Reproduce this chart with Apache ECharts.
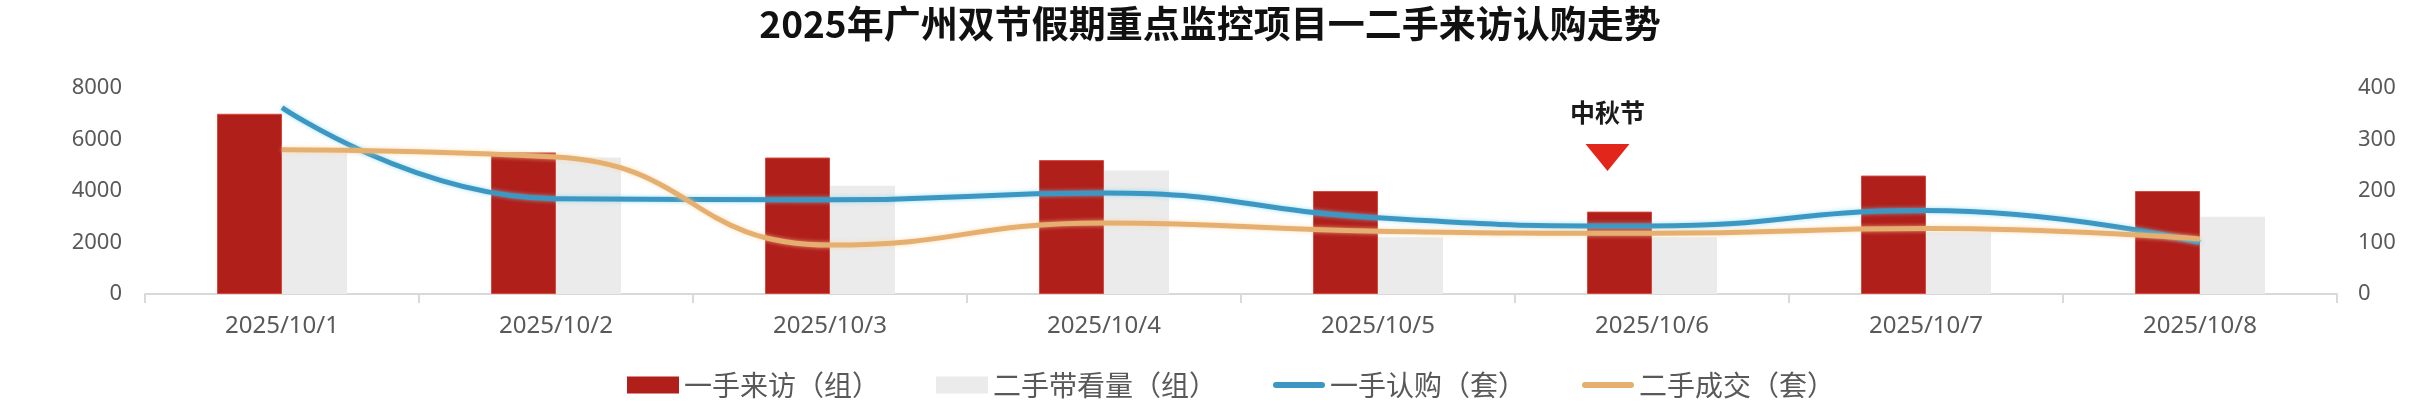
<!DOCTYPE html>
<html><head><meta charset="utf-8">
<script src="https://cdn.jsdelivr.net/npm/echarts@6/dist/echarts.min.js"></script>
<style>html,body{margin:0;padding:0;background:#fff}#c{width:2420px;height:402px}</style>
</head><body><div id="c"></div>
<script>
const titleText = '2025年广州双节假期重点监控项目一二手来访认购走势';
const categories = ['2025/10/1','2025/10/2','2025/10/3','2025/10/4','2025/10/5','2025/10/6','2025/10/7','2025/10/8'];
const seriesNames = ['一手来访（组）','二手带看量（组）','一手认购（套）','二手成交（套）'];
const newVisits = [7000,5500,5300,5200,4000,3200,4600,4000];
const resaleViewings = [5500,5300,4200,4800,2200,2200,2400,3000];
const newSubscriptions = [362,185,183,196,148,132,162,100];
const resaleDeals = [280,266,95,138,122,118,127,107];
const leftAxisTicks = [0,2000,4000,6000,8000];
const rightAxisTicks = [0,100,200,300,400];
const holidayLabel = '中秋节';
const holidayCategory = '2025/10/6';
const holidayMarkValue = 5300;

const labelColor = '#595959';
const numFont = '"Noto Sans", "Liberation Sans", sans-serif';
const cjkFont = '"Noto Sans CJK SC", sans-serif';
const lineIcon = 'path://M3,0H49A3,3 0 0 1 49,6H3A3,3 0 0 1 3,0Z';

const chart = echarts.init(document.getElementById('c'), null, {renderer:'canvas'});
chart.setOption({
  animation:false,
  backgroundColor:'#ffffff',
  title:{
    text:titleText, left:'center', top:0,
    textStyle:{fontSize:37, fontWeight:'bold', color:'#111', fontFamily:cjkFont}
  },
  legend:{
    left:622, top:366, itemWidth:52, itemHeight:17, itemGap:56,
    textStyle:{fontSize:28, color:labelColor, fontFamily:cjkFont},
    itemStyle:{borderWidth:0},
    data:[
      {name:seriesNames[0], icon:'rect'},
      {name:seriesNames[1], icon:'rect'},
      {name:seriesNames[2], icon:lineIcon},
      {name:seriesNames[3], icon:lineIcon}
    ]
  },
  grid:{left:145, right:83, top:88, bottom:108, containLabel:false},
  xAxis:{
    type:'category', data:categories, boundaryGap:true,
    axisLine:{show:true, lineStyle:{color:'#d9d9d9', width:2}},
    axisTick:{show:true, length:9, lineStyle:{color:'#d9d9d9', width:2}},
    axisLabel:{fontSize:24, color:labelColor, fontFamily:numFont, margin:20}
  },
  yAxis:[
    {type:'value', min:leftAxisTicks[0], max:leftAxisTicks[leftAxisTicks.length-1], interval:leftAxisTicks[1]-leftAxisTicks[0],
     axisLine:{show:false}, axisTick:{show:false}, splitLine:{show:false},
     axisLabel:{fontSize:22, color:labelColor, fontFamily:numFont, margin:23, formatter:v => String(v)}},
    {type:'value', min:rightAxisTicks[0], max:rightAxisTicks[rightAxisTicks.length-1], interval:rightAxisTicks[1]-rightAxisTicks[0],
     axisLine:{show:false}, axisTick:{show:false}, splitLine:{show:false},
     axisLabel:{fontSize:22, color:labelColor, fontFamily:numFont, margin:21, formatter:v => String(v)}}
  ],
  series:[
    {name:seriesNames[0], type:'bar', yAxisIndex:0, data:newVisits, barWidth:65, barGap:'0%',
     itemStyle:{color:'#b01f1a', borderColor:'#d9493a', borderWidth:1},
     markPoint:{
       symbol:'path://M0,0L44,0L22,27Z', symbolSize:[44,27], symbolOffset:[-12,0],
       itemStyle:{color:'#e3261c'},
       label:{show:true, position:'top', distance:19, formatter:holidayLabel,
              fontSize:25, fontWeight:'bold', color:'#1a1a1a', fontFamily:cjkFont},
       data:[{coord:[holidayCategory, holidayMarkValue]}]
     }},
    {name:seriesNames[1], type:'bar', yAxisIndex:0, data:resaleViewings, barWidth:65, barGap:'0%',
     itemStyle:{color:'#ebebeb'}},
    {name:seriesNames[2], type:'line', yAxisIndex:1, data:newSubscriptions, smooth:0.5, showSymbol:false, symbol:'none',
     itemStyle:{color:'#3c98c2'},
     lineStyle:{color:'#3c98c2', width:5, shadowColor:'rgba(120,210,240,0.7)', shadowBlur:4}},
    {name:seriesNames[3], type:'line', yAxisIndex:1, data:resaleDeals, smooth:0.5, showSymbol:false, symbol:'none',
     itemStyle:{color:'#e5b06f'},
     lineStyle:{color:'#e5b06f', width:5, shadowColor:'rgba(250,210,160,0.7)', shadowBlur:4}}
  ]
});
</script></body></html>
